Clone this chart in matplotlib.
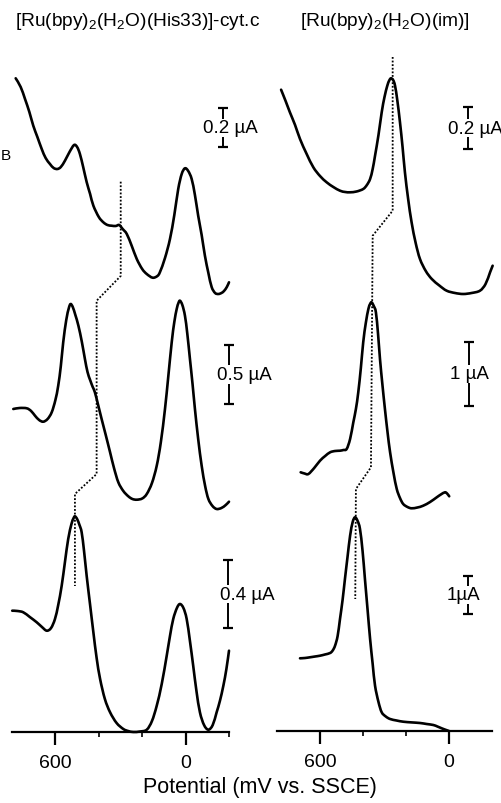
import matplotlib
matplotlib.use("Agg")
import matplotlib.pyplot as plt
from matplotlib.path import Path
from matplotlib.patches import PathPatch

plt.rcParams['font.family'] = ['Liberation Sans', 'DejaVu Sans']
plt.rcParams['mathtext.fontset'] = 'custom'
plt.rcParams['mathtext.rm'] = 'Liberation Sans'
plt.rcParams['mathtext.default'] = 'regular'

# ---------------- data (potential in mV vs SSCE, current in arbitrary offset units) -------------
# Left panel: [Ru(bpy)2(H2O)(His33)]-cyt.c
L_top_E = [783, 760, 740, 720, 702, 683, 663, 645, 625, 608, 591, 575, 556, 535, 514, 500, 487, 472,
           456, 440, 425, 400, 379, 360, 341, 322, 306, 290, 271, 248, 225, 200, 179, 152,
           130, 118, 95, 72, 52, 34, 18, 3, -12, -28, -43, -58, -74, -89, -105, -120, -136, -151,
           -165, -177, -190, -200]
L_top_I = [653.7, 645, 633, 620, 606.3, 595, 583, 574, 568, 564, 563, 565, 571.3, 580, 587, 585, 578,
           565, 550, 538, 526.3, 515, 509.7, 507, 506.3, 506, 507, 503, 498, 486, 473, 463, 458, 454.3,
           456, 460, 474, 493, 517, 543, 558, 563.7, 561, 553, 537, 516.3, 497, 476.3, 459, 445, 439,
           438, 439, 441, 445, 449.7]

L_mid_E = [794, 765, 732, 712, 694, 675, 656, 636, 617, 600, 587, 575, 564, 550, 538, 530, 520, 508,
           494, 478, 464, 452, 440, 428, 418, 403, 387, 368, 348, 330, 310, 287, 264, 245, 225, 200,
           179, 155, 133, 114, 95, 80, 64, 52, 41, 33, 26, 15, 3, -8, -20, -32, -43, -58, -74, -90,
           -105, -124, -143, -165, -185, -200]
L_mid_I = [323, 324, 323.7, 321, 316.3, 312, 310.3, 313, 319.7, 332, 346.3, 366, 389.7, 412, 424, 428,
           425, 417, 406.3, 390, 373, 360, 352, 345, 339.7, 327, 313, 297, 279.7, 264, 249.7, 241, 235.7,
           233, 232.3, 233.5, 238, 249, 266.3, 290, 323, 355, 389.7, 410, 423, 429, 431.3, 427, 416.3,
           398, 373, 348, 323, 293, 266.3, 246, 233, 226, 223, 224, 227, 230.3]

L_bot_E = [799, 775, 748, 718, 686, 662, 640, 620, 602, 587, 571, 556, 541, 526, 517, 510, 500, 489,
           479, 468, 456, 440, 425, 410, 394, 372, 348, 318, 287, 265, 241, 210, 179, 155, 133, 110,
           87, 72, 57, 40, 26, 10, -5, -20, -35, -50, -66, -85, -105, -125, -143, -158, -174, -188, -200]
L_bot_I = [121.3, 121, 119.7, 115, 109.7, 105, 101.3, 104, 113, 127, 146.3, 170, 193, 208, 213.5, 215.7,
           213, 207, 199.7, 181, 156.3, 127, 99.7, 74, 53, 33, 19.7, 9, 3, 1, 0, 0.5, 2.3, 11, 26.3, 48,
           76.3, 96, 113, 124, 128, 124, 113, 91, 66.3, 41, 19.7, 7, 2.3, 7, 19.7, 31, 46.3, 63, 81.3]

L_dot_E = [299, 299, 410, 410, 510, 510]
L_dot_I = [550.3, 456, 431.3, 258, 238, 146]

# Right panel: [Ru(bpy)2(H2O)(im)]
R_top_E = [781, 760, 740, 716, 693, 662, 631, 600, 569, 538, 507, 483, 460, 430, 399, 382, 367, 355,
           344, 328, 313, 300, 287, 278, 270, 260, 251, 240, 228, 216, 205, 190, 174, 155, 135, 108,
           80, 45, 11, -28, -66, -105, -144, -170, -191, -203]
R_top_I = [641.3, 630, 618.7, 606, 592, 577, 563.7, 555, 548.7, 544, 540.3, 539, 538.7, 539.5, 542, 546,
           552, 562, 575.3, 596, 618.7, 634, 645.3, 650.5, 652.7, 651, 645.3, 630, 608.7, 584, 558.7,
           532, 508.7, 488, 472, 460, 452, 445.5, 440.3, 438, 437, 438, 440.3, 447, 458.7, 465.3]

R_mid_E = [690, 672, 654, 627, 600, 576, 553, 530, 507, 491, 476, 460, 445, 433, 422, 410, 399, 387,
           375, 367, 360, 350, 340, 330, 321, 310, 298, 286, 274, 258, 243, 228, 213, 193, 174, 147,
           120, 88, 57, 38, 19, 9, -1]
R_mid_I = [258.7, 257.5, 257, 263, 270.3, 275, 278.7, 280, 280.3, 281, 282, 292, 308.7, 322, 338.7, 363,
           388.7, 408, 422, 427, 428.7, 425, 418.7, 397, 372, 347, 322, 299, 278.7, 258, 242, 233, 227,
           224, 222.7, 223.5, 225.3, 229, 233.7, 236.5, 238.7, 237.5, 234.7]

R_bot_E = [693, 670, 647, 623, 600, 577, 553, 541, 530, 518, 507, 495, 484, 472, 460, 448, 437, 425,
           414, 402, 391, 379, 367, 355, 344, 328, 313, 294, 274, 244, 213, 174, 135, 104, 73, 54, 34,
           17, 0]
R_bot_I = [72.7, 73, 73.7, 74.5, 75.3, 76.5, 78, 80.5, 85.3, 95, 112, 131, 152, 174, 195.3, 209, 213.7,
           210, 202, 180, 152, 122, 92, 67, 45.3, 29, 18.7, 14.5, 12, 10.5, 9.3, 8.6, 8, 7, 6, 4.5, 2.7,
           1.3, 0]

R_dot_E = [262, 262, 355, 363, 433, 436]
R_dot_I = [674, 520.3, 495.3, 263.7, 242, 132]

# scale bars: (E position, bottom, top, label)
L_bars = [(-171, 584.7, 623.7, '0.2 µA'), (-198, 328, 387, '0.5 µA'), (-194, 103.7, 172.3, '0.4 µA')]
R_bars = [(-90, 582, 623.7, '0.2 µA'), (-93, 325.3, 388.7, '1 µA'), (-90, 117, 155.3, '1µA')]
L_bar_text_E = [-80, -143, -160]
R_bar_text_E = [5, -5, 13]

titles = [r'[Ru(bpy)$_2$(H$_2$O)(His33)]-cyt.c', r'[Ru(bpy)$_2$(H$_2$O)(im)]']
major_ticks = [600, 0]
tick_labels = ['600', '0']
L_minor = [400, 200, -200]
R_minor = [400, 200]
xlabel = 'Potential (mV vs. SSCE)'

# ---------------- figure ----------------
W, H = 502, 804
fig = plt.figure(figsize=(W / 100, H / 100), dpi=100)

axL = fig.add_axes([12 / W, 71 / H, 217 / W, 733 / H])
axR = fig.add_axes([277 / W, 72 / H, 215 / W, 732 / H])


def style(ax, ymax, minor):
    ax.set_xlim(800, -200)
    ax.set_ylim(0, ymax)
    for s in ['top', 'right', 'left']:
        ax.spines[s].set_visible(False)
    ax.spines['bottom'].set_linewidth(1.6)
    ax.set_yticks([])
    ax.set_xticks(major_ticks)
    ax.set_xticklabels(tick_labels)
    ax.set_xticks(minor, minor=True)
    ax.tick_params(axis='x', which='major', length=9.5, width=1.6, pad=6, labelsize=14, direction='out')
    ax.tick_params(axis='x', which='minor', length=3.5, width=1.2, direction='out')
    ax.patch.set_alpha(0)


style(axL, 733, L_minor)
style(axR, 732, R_minor)


def smooth_curve(ax, E, I, lw=1.9):
    """Draw a Catmull-Rom style smooth path through the data points."""
    pts = list(zip(E, I))
    n = len(pts)
    verts = [pts[0]]
    codes = [Path.MOVETO]
    for i in range(n - 1):
        p0 = pts[i - 1] if i > 0 else pts[i]
        p1 = pts[i]
        p2 = pts[i + 1]
        p3 = pts[i + 2] if i + 2 < n else pts[i + 1]
        c1 = (p1[0] + (p2[0] - p0[0]) / 6.0, p1[1] + (p2[1] - p0[1]) / 6.0)
        c2 = (p2[0] - (p3[0] - p1[0]) / 6.0, p2[1] - (p3[1] - p1[1]) / 6.0)
        verts += [c1, c2, p2]
        codes += [Path.CURVE4, Path.CURVE4, Path.CURVE4]
    patch = PathPatch(Path(verts, codes), facecolor='none', edgecolor='black', lw=lw,
                      capstyle='round', joinstyle='round', clip_on=False)
    ax.add_patch(patch)


for E, I in [(L_top_E, L_top_I), (L_mid_E, L_mid_I), (L_bot_E, L_bot_I)]:
    smooth_curve(axL, E, I)
for E, I in [(R_top_E, R_top_I), (R_mid_E, R_mid_I), (R_bot_E, R_bot_I)]:
    smooth_curve(axR, E, I)

axL.plot(L_dot_E, L_dot_I, color='black', lw=1.3, ls=(0, (1, 1)), clip_on=False)
axR.plot(R_dot_E, R_dot_I, color='black', lw=1.3, ls=(0, (1, 1)), clip_on=False)


def bars(ax, spec, textE):
    for (e, y0, y1, lab), te in zip(spec, textE):
        ax.plot([e, e], [y0, y1], color='black', lw=1.4, clip_on=False)
        ax.plot([e, e], [y0, y1], color='black', lw=0, marker='_', ms=7, mew=1.6, clip_on=False)
        ax.text(te, (y0 + y1) / 2, lab, ha='left', va='center', fontsize=13.5,
                bbox=dict(facecolor='white', edgecolor='none', pad=0.5), clip_on=False)


bars(axL, L_bars, L_bar_text_E)
bars(axR, R_bars, R_bar_text_E)

fig.text(15 / W, 1 - 21 / H, titles[0], ha='left', va='center', fontsize=13.8)
fig.text(300 / W, 1 - 21 / H, titles[1], ha='left', va='center', fontsize=13.8)
fig.text(260 / W, 1 - 788 / H, xlabel, ha='center', va='center', fontsize=15.5)
fig.text(0.5 / W, 1 - 156 / H, 'B', ha='left', va='center', fontsize=11)

fig.savefig('out.png', dpi=100)
